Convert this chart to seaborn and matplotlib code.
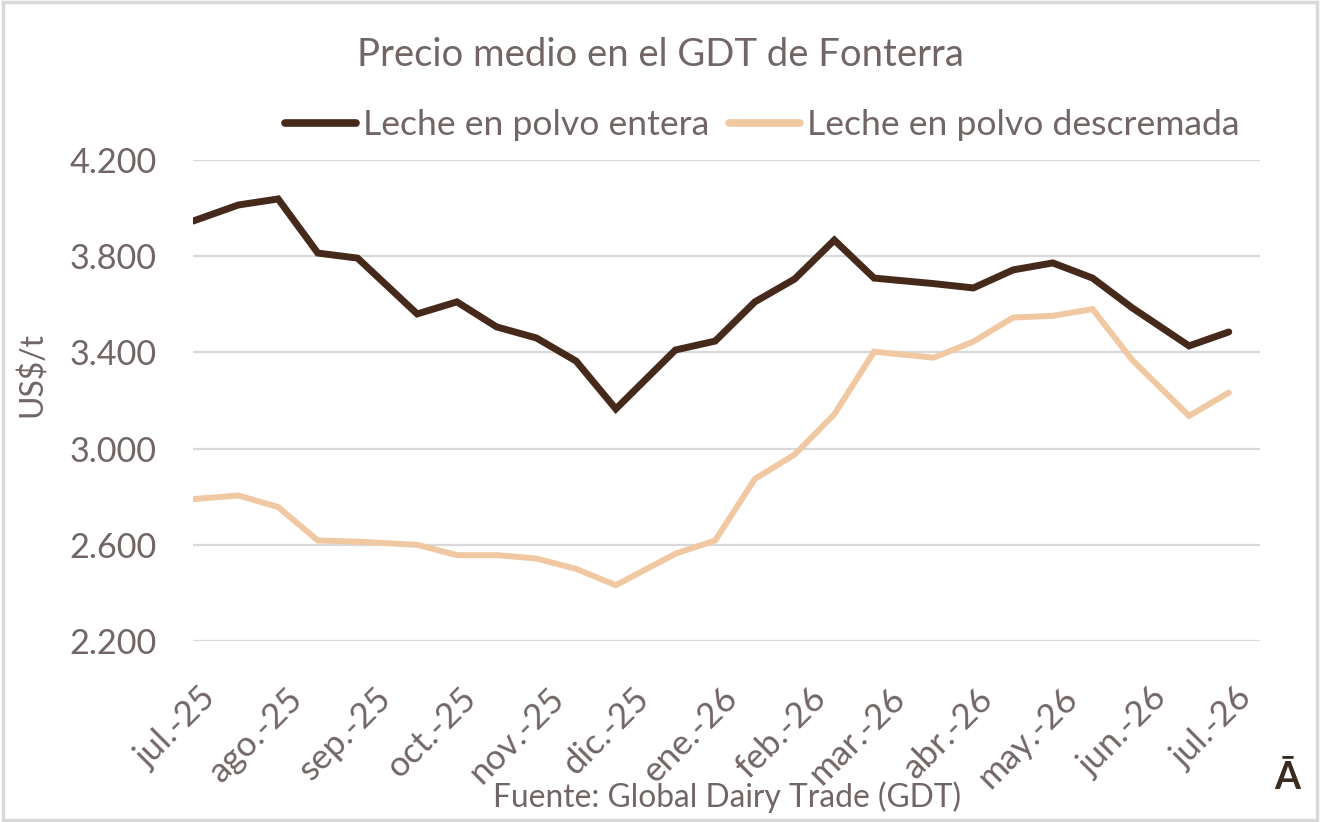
import matplotlib
matplotlib.use("Agg")
import matplotlib.pyplot as plt
import matplotlib.dates as mdates
import matplotlib.transforms as mtrans
from matplotlib.patches import Rectangle
from matplotlib.lines import Line2D
import seaborn as sns
import pandas as pd

# ---- data ----
dates = ["2025-07-01", "2025-07-17", "2025-07-31", "2025-08-14", "2025-08-28",
         "2025-09-18", "2025-10-02", "2025-10-16", "2025-10-30", "2025-11-13",
         "2025-11-27", "2025-12-18", "2026-01-01", "2026-01-15", "2026-01-29",
         "2026-02-12", "2026-02-26", "2026-03-19", "2026-04-02", "2026-04-16",
         "2026-04-30", "2026-05-14", "2026-05-28", "2026-06-17", "2026-07-01"]
entera = [3946, 4013, 4038, 3813, 3792, 3560, 3610, 3506, 3460, 3364,
          3165, 3410, 3447, 3610, 3705, 3867, 3709, 3686, 3668, 3743,
          3772, 3709, 3585, 3427, 3485]
descremada = [2790, 2805, 2757, 2618, 2613, 2600, 2557, 2557, 2543, 2500,
              2432, 2563, 2618, 2874, 2975, 3143, 3403, 3378, 3445, 3545,
              3552, 3580, 3368, 3136, 3233]
series_names = ["Leche en polvo entera", "Leche en polvo descremada"]
month_ticks = ["2025-07-01", "2025-08-01", "2025-09-01", "2025-10-01", "2025-11-01",
               "2025-12-01", "2026-01-01", "2026-02-01", "2026-03-01", "2026-04-01",
               "2026-05-01", "2026-06-01", "2026-07-01"]
month_labels = ["jul.-25", "ago.-25", "sep.-25", "oct.-25", "nov.-25", "dic.-25",
                "ene.-26", "feb.-26", "mar.-26", "abr.-26", "may.-26", "jun.-26", "jul.-26"]
y_ticks = [2200, 2600, 3000, 3400, 3800, 4200]
y_labels = ["2.200", "2.600", "3.000", "3.400", "3.800", "4.200"]

title = "Precio medio en el GDT de Fonterra"
ylabel = "US$/t"
source = "Fuente: Global Dairy Trade (GDT)"

df = pd.DataFrame({
    "fecha": pd.to_datetime(dates * 2),
    "precio": entera + descremada,
    "serie": [series_names[0]] * len(dates) + [series_names[1]] * len(dates),
})

sns.set_theme(style="white")
plt.rcParams["font.family"] = ["Lato", "DejaVu Sans"]
text_color = "#716565"
dark = "#45291A"
light = "#F0C9A2"

W, H, DPI = 1320, 822, 100
PX_PER_PT = DPI / 72.0

fig = plt.figure(figsize=(W / DPI, H / DPI), dpi=DPI)
ax = fig.add_axes([193 / W, 1 - 641 / H, (1260 - 193) / W, (641 - 160) / H])

sns.lineplot(data=df, x="fecha", y="precio", hue="serie",
             palette={series_names[0]: dark, series_names[1]: light},
             ax=ax, legend=False, sort=False)
ax.lines[0].set_linewidth(5.0)
ax.lines[1].set_linewidth(4.3)
for ln in ax.lines:
    ln.set_solid_joinstyle("miter")
    ln.set_solid_capstyle("round")

ax.set_ylim(2200, 4200)
start = pd.Timestamp(dates[0])
ax.set_xlim(mdates.date2num(start), mdates.date2num(start + pd.Timedelta(days=376)))
ax.set_yticks(y_ticks)
ax.set_yticklabels(y_labels)
ax.set_xticks(mdates.date2num(pd.to_datetime(month_ticks)))
ax.set_xticklabels(month_labels, rotation=45, ha="right", rotation_mode="anchor")

ax.yaxis.grid(True, color="#D9D9D9", linewidth=1.6)
ax.set_axisbelow(True)
for s in ax.spines.values():
    s.set_visible(False)
tick_fs = 22.0
ypad = 26.0
ax.tick_params(axis="y", length=0, pad=ypad, labelsize=tick_fs, labelcolor=text_color)
ax.tick_params(axis="x", length=0, pad=41 / PX_PER_PT, labelsize=tick_fs, labelcolor=text_color)
ax.set_xlabel("")
ax.set_ylabel("")

t_ylabel = fig.text(32 / W, 1 - 375 / H, ylabel, rotation=90, ha="center", va="center",
                    fontsize=24, color=text_color)
t_title = fig.text(660 / W, 1 - 55 / H, title, ha="center", va="center",
                   fontsize=26, color=text_color)
t_source = fig.text(727 / W, 1 - 797 / H, source, ha="center", va="center",
                    fontsize=21, color=text_color)
fig.text(1287 / W, 1 - 778 / H, "Ā", ha="center", va="center",
         fontsize=27, fontweight="bold", color="#3B2A1E")

fig.patches.append(Rectangle((0.002, 0.003), 0.996, 0.994, transform=fig.transFigure,
                             fill=False, edgecolor="#D9D9D9", linewidth=2.5))

handles = [Line2D([], [], color=dark, lw=5.5, solid_capstyle="round"),
           Line2D([], [], color=light, lw=5.5, solid_capstyle="round")]


def make_legend(fs, x_anchor):
    fs_px = fs * PX_PER_PT
    return fig.legend(handles, series_names, loc="center left",
                      bbox_to_anchor=(x_anchor / W, 1 - 125 / H),
                      ncol=2, frameon=False, fontsize=fs, labelcolor=text_color,
                      handlelength=71 / fs_px, handletextpad=7 / fs_px,
                      columnspacing=20 / fs_px, borderaxespad=0, borderpad=0)


leg_fs = 24.0
leg = make_legend(leg_fs, 285)

# ---- fit text sizes to the reference's measured extents ----
fig.canvas.draw()
r = fig.canvas.get_renderer()


def ext(a):
    return a.get_window_extent(renderer=r)


t_title.set_fontsize(t_title.get_fontsize() * 605 / ext(t_title).width)
t_source.set_fontsize(t_source.get_fontsize() * 468 / ext(t_source).width)
t_ylabel.set_fontsize(t_ylabel.get_fontsize() * 85 / ext(t_ylabel).height)
ylab_top = [lb for lb in ax.get_yticklabels() if lb.get_text() == "4.200"][0]
tick_fs = tick_fs * 87 / ext(ylab_top).width
leg_fs = leg_fs * 345 / ext(leg.get_texts()[0]).width
leg.remove()
leg = make_legend(leg_fs, 285)
ax.tick_params(axis="y", labelsize=tick_fs)
ax.tick_params(axis="x", labelsize=tick_fs * 1.03)

fig.canvas.draw()
r = fig.canvas.get_renderer()
ylab_top = [lb for lb in ax.get_yticklabels() if lb.get_text() == "4.200"][0]
ypad = ypad + (ext(ylab_top).x1 - 157) / PX_PER_PT
ax.tick_params(axis="y", pad=ypad)
ax.tick_params(axis="x", pad=41 / PX_PER_PT)
shift = 363 - ext(leg.get_texts()[0]).x0
leg.remove()
leg = make_legend(leg_fs, 285 + shift)

fig.canvas.draw()
off = mtrans.ScaledTranslation(6 / DPI, 0, fig.dpi_scale_trans)
for lb in ax.get_xticklabels():
    lb.set_transform(lb.get_transform() + off)

fig.savefig("out.png", dpi=DPI, facecolor="white")
